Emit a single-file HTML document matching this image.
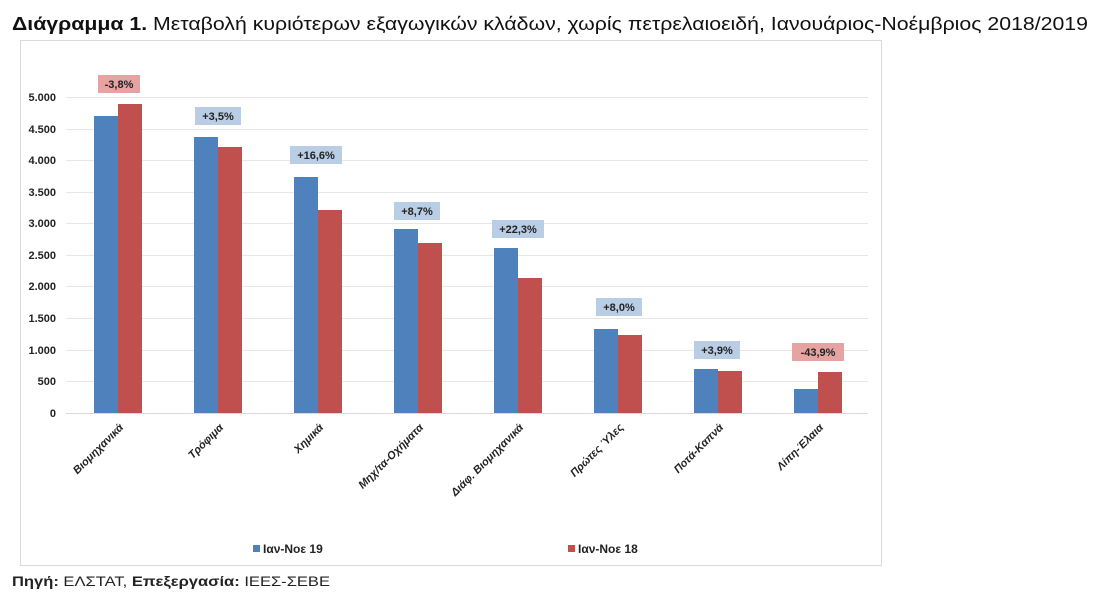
<!DOCTYPE html>
<html><head><meta charset="utf-8"><style>
body{margin:0;background:#fff;width:1100px;height:599px;overflow:hidden}
svg{display:block;font-family:"Liberation Sans","DejaVu Sans",sans-serif}
</style></head><body>
<svg width="1100" height="599" viewBox="0 0 1100 599">
<text x="12" y="30" font-size="18" fill="#111" textLength="1076" lengthAdjust="spacingAndGlyphs"><tspan font-weight="bold">Διάγραμμα 1.</tspan> Μεταβολή κυριότερων εξαγωγικών κλάδων, χωρίς πετρελαιοειδή, Ιανουάριος-Νοέμβριος 2018/2019</text>
<rect x="20.5" y="40.5" width="861" height="525" fill="#fff" stroke="#d9d9d9"/>
<g stroke="#e6e6e6" stroke-width="1">
<line x1="66" x2="868" y1="97.5" y2="97.5"/><line x1="66" x2="868" y1="129.5" y2="129.5"/>
<line x1="66" x2="868" y1="160.5" y2="160.5"/><line x1="66" x2="868" y1="192.5" y2="192.5"/>
<line x1="66" x2="868" y1="223.5" y2="223.5"/><line x1="66" x2="868" y1="255.5" y2="255.5"/>
<line x1="66" x2="868" y1="286.5" y2="286.5"/><line x1="66" x2="868" y1="318.5" y2="318.5"/>
<line x1="66" x2="868" y1="350.5" y2="350.5"/><line x1="66" x2="868" y1="381.5" y2="381.5"/>
<line x1="66" x2="868" y1="413.5" y2="413.5" stroke="#d9d9d9"/>
</g>
<g font-size="11" font-weight="bold" fill="#222" text-anchor="end">
<text x="56" y="101">5.000</text><text x="56" y="133">4.500</text><text x="56" y="164">4.000</text>
<text x="56" y="196">3.500</text><text x="56" y="227">3.000</text><text x="56" y="259">2.500</text>
<text x="56" y="290">2.000</text><text x="56" y="322">1.500</text><text x="56" y="354">1.000</text>
<text x="56" y="385">500</text><text x="56" y="417">0</text>
</g>
<g fill="#4f81bd">
<rect x="94" y="116" width="24" height="297"/><rect x="194" y="137" width="24" height="276"/>
<rect x="294" y="177" width="24" height="236"/><rect x="394" y="229" width="24" height="184"/>
<rect x="494" y="248" width="24" height="165"/><rect x="594" y="329" width="24" height="84"/>
<rect x="694" y="369" width="24" height="44"/><rect x="794" y="389" width="24" height="24"/>
</g>
<g fill="#c0504d">
<rect x="118" y="104" width="24" height="309"/><rect x="218" y="147" width="24" height="266"/>
<rect x="318" y="210" width="24" height="203"/><rect x="418" y="243" width="24" height="170"/>
<rect x="518" y="278" width="24" height="135"/><rect x="618" y="335" width="24" height="78"/>
<rect x="718" y="371" width="24" height="42"/><rect x="818" y="372" width="24" height="41"/>
</g>
<g font-size="11" font-weight="bold" fill="#222" text-anchor="middle">
<rect x="98" y="75" width="42" height="18" fill="#e6a3a1"/><text x="119" y="88">-3,8%</text>
<rect x="195" y="107" width="46" height="18" fill="#b9cde5"/><text x="218" y="120">+3,5%</text>
<rect x="290" y="146" width="52" height="18" fill="#b9cde5"/><text x="316" y="159">+16,6%</text>
<rect x="394" y="202" width="46" height="18" fill="#b9cde5"/><text x="417" y="215">+8,7%</text>
<rect x="492" y="220" width="52" height="18" fill="#b9cde5"/><text x="518" y="233">+22,3%</text>
<rect x="596" y="298" width="46" height="18" fill="#b9cde5"/><text x="619" y="311">+8,0%</text>
<rect x="694" y="341" width="46" height="18" fill="#b9cde5"/><text x="717" y="354">+3,9%</text>
<rect x="792" y="343" width="52" height="18" fill="#e6a3a1"/><text x="818" y="356">-43,9%</text>
</g>
<g font-size="11" font-weight="bold" font-style="italic" fill="#222" text-anchor="end">
<text transform="translate(124,428) rotate(-45)">Βιομηχανικά</text>
<text transform="translate(224,428) rotate(-45)">Τρόφιμα</text>
<text transform="translate(324,428) rotate(-45)">Χημικά</text>
<text transform="translate(424,428) rotate(-45)">Μηχ/τα-Οχήματα</text>
<text transform="translate(524,428) rotate(-45)">Διάφ. Βιομηχανικά</text>
<text transform="translate(624,428) rotate(-45)">Πρώτες Ύλες</text>
<text transform="translate(724,428) rotate(-45)">Ποτά-Καπνά</text>
<text transform="translate(824,428) rotate(-45)">Λίπη-Έλαια</text>
</g>
<g font-size="12" font-weight="bold" fill="#222">
<rect x="253" y="545" width="7" height="7" fill="#4f81bd"/><text x="263" y="553">Ιαν-Νοε 19</text>
<rect x="568" y="545" width="7" height="7" fill="#c0504d"/><text x="578" y="553">Ιαν-Νοε 18</text>
</g>
<text x="12" y="586" font-size="14" fill="#222" textLength="318" lengthAdjust="spacingAndGlyphs"><tspan font-weight="bold">Πηγή:</tspan> ΕΛΣΤΑΤ, <tspan font-weight="bold">Επεξεργασία:</tspan> ΙΕΕΣ-ΣΕΒΕ</text>
</svg>
</body></html>
